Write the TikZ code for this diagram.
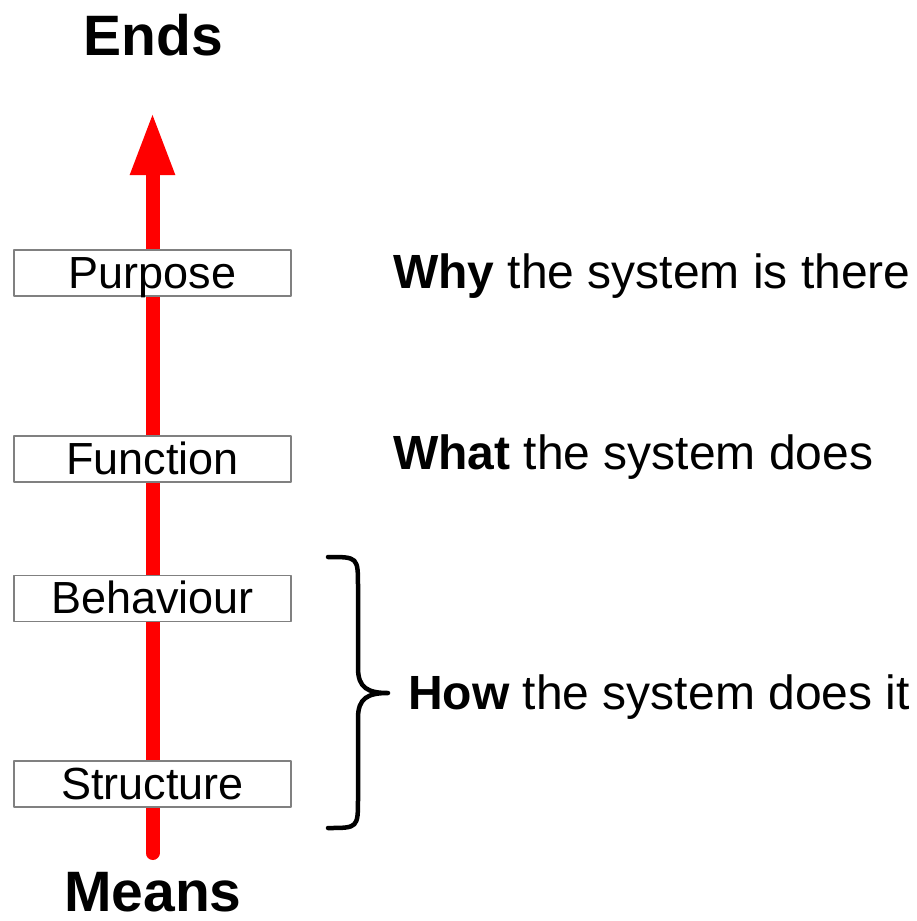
\documentclass[tikz,border=0pt]{standalone}
\usepackage{fontspec}
\setmainfont{Liberation Sans}
\usepackage{tikz}
\usetikzlibrary{arrows.meta}

\begin{document}
\begin{tikzpicture}[
    x=1pt, y=-1pt,
    line cap=round,
    line join=round,
    level/.style={draw=gray, line width=1.5pt, fill=white, minimum width=277pt, minimum height=46pt, inner sep=0pt, text height=30pt, text depth=0pt, font=\fontsize{45}{54}\selectfont},
    reason/.style={anchor=base west, inner sep=0pt, font=\fontsize{48}{58}\selectfont},
    pole/.style={anchor=base, inner sep=0pt, text depth=0pt, font=\fontsize{57}{68}\selectfont\bfseries}
]

\useasboundingbox (0,0) rectangle (916,921);

\def\axisx{152.5}
\def\bracex{358}

\coordinate (bottom) at (\axisx,853);
\coordinate (top) at (\axisx,112);
\draw[line width=14pt, color=red, -{Triangle[length=63pt, width=41pt]}] (bottom) -- (top);

\node[pole] (ends) at (\axisx+1,55) {Ends};
\node[pole] (means) at (\axisx+0.5,911) {Means};

\node[level] (purpose) at (\axisx,273) {Purpose};
\node[level] (function) at (\axisx,459) {Function};
\node[level] (behaviour) at (\axisx,598.5) {Behaviour};
\node[level] (structure) at (\axisx,784) {Structure};

\node[reason] (why) at (393,288) {\textbf{Why} the system is there};
\node[reason] (what) at (393,469) {\textbf{What} the system does};
\node[reason] (how) at (408,709) {\textbf{How} the system does it};

\coordinate (tip) at (388,693);
\draw[line width=4.5pt] (328,557) .. controls (\bracex,557) .. (\bracex,587) -- (\bracex,668)
    .. controls (\bracex,688) and (368,693) .. (tip)
    .. controls (368,693) and (\bracex,698) .. (\bracex,718) -- (\bracex,798)
    .. controls (\bracex,828) .. (328,828);

\end{tikzpicture}
\end{document}
